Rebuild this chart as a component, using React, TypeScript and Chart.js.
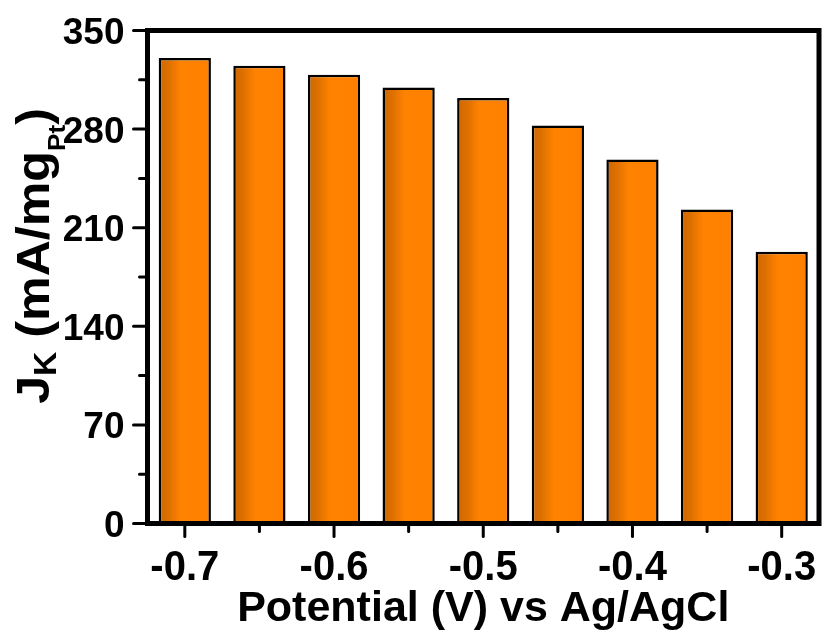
import React, { useEffect, useRef } from "react";
import { Chart, registerables } from "chart.js";

Chart.register(...registerables);

// Electrode potential (V vs Ag/AgCl) and kinetic current density (mA/mg Pt)
const potentials = ["-0.7", "-0.65", "-0.6", "-0.55", "-0.5", "-0.45", "-0.4", "-0.35", "-0.3"];
const kineticCurrent = [330.5, 325, 318.5, 309.5, 302, 282.5, 258.5, 223, 193];

const yMajorTicks = [0, 70, 140, 210, 280, 350];
const yMinorTicks = [35, 105, 175, 245, 315];
const xTickLabels = ["-0.7", "", "-0.6", "", "-0.5", "", "-0.4", "", "-0.3"];

const xTitle = "Potential (V) vs Ag/AgCl";
const yTitleParts = [
  { text: "J", level: 0 },
  { text: "K", level: 1 },
  { text: " (mA/mg", level: 0 },
  { text: "Pt", level: 2 },
  { text: ")", level: 0 },
];

const FONT = '"Liberation Sans", Arial, sans-serif';
const BAR_PCT = 0.7;

function barGradient(c: any) {
  const chart = c.chart;
  const xs = chart.scales?.x;
  if (!xs || !chart.chartArea) return "#ff8000";
  const cx = xs.getPixelForValue(c.dataIndex);
  const w = ((xs.right - xs.left) / potentials.length) * BAR_PCT;
  const g = chart.ctx.createLinearGradient(cx - w / 2, 0, cx + w / 2, 0);
  g.addColorStop(0, "#d06800");
  g.addColorStop(0.18, "#db6f00");
  g.addColorStop(0.42, "#ff8200");
  g.addColorStop(1, "#ff8000");
  return g;
}

const frameAndAxes = {
  id: "frameAndAxes",
  afterDraw(chart: any) {
    const { ctx, chartArea: a, scales } = chart;
    const xs = scales.x;
    const ys = scales.y;
    ctx.save();
    ctx.strokeStyle = "#000";
    ctx.fillStyle = "#000";

    // plot frame
    ctx.lineWidth = 5;
    ctx.strokeRect(a.left, a.top, a.right - a.left, a.bottom - a.top);

    const seg = (x1: number, y1: number, x2: number, y2: number) => {
      ctx.beginPath();
      ctx.moveTo(x1, y1);
      ctx.lineTo(x2, y2);
      ctx.stroke();
    };

    const tallText = (t: string, x: number, y: number, k: number) => {
      ctx.save();
      ctx.translate(x, y);
      ctx.scale(1, k);
      ctx.fillText(t, 0, 0);
      ctx.restore();
    };

    // y ticks (outward)
    ctx.lineWidth = 3;
    ctx.lineCap = "round";
    yMajorTicks.forEach((v) => {
      const y = ys.getPixelForValue(v);
      seg(a.left, y, a.left - 14, y);
    });
    yMinorTicks.forEach((v) => {
      const y = ys.getPixelForValue(v);
      seg(a.left, y, a.left - 8, y);
    });

    // x ticks (outward)
    potentials.forEach((_, i) => {
      const x = xs.getPixelForValue(i);
      const major = xTickLabels[i] !== "";
      seg(x, a.bottom, x, a.bottom + (major ? 13 : 8));
    });
    ctx.lineCap = "butt";

    // y tick labels
    ctx.font = `bold 37px ${FONT}`;
    ctx.textAlign = "right";
    ctx.textBaseline = "alphabetic";
    yMajorTicks.forEach((v) => {
      const y = ys.getPixelForValue(v);
      tallText(String(v), a.left - 23, y + 13.5, 1);
    });

    // x tick labels
    ctx.font = `bold 40px ${FONT}`;
    ctx.textAlign = "center";
    xTickLabels.forEach((t, i) => {
      if (!t) return;
      tallText(t, xs.getPixelForValue(i), 580, 1.05);
    });

    // x title
    ctx.font = `bold 43px ${FONT}`;
    tallText(xTitle, (a.left + a.right) / 2, 621, 1);

    // y title, rotated, with subscripts
    const sizes = [46, 31, 24];
    const drops = [0, 7, 16];
    ctx.save();
    ctx.translate(49, 256);
    ctx.rotate(-Math.PI / 2);
    ctx.scale(1.09, 1);
    let total = 0;
    yTitleParts.forEach((p) => {
      ctx.font = `bold ${sizes[p.level]}px ${FONT}`;
      total += ctx.measureText(p.text).width;
    });
    let x = -total / 2;
    ctx.textAlign = "left";
    yTitleParts.forEach((p) => {
      ctx.font = `bold ${sizes[p.level]}px ${FONT}`;
      ctx.fillText(p.text, x, drops[p.level]);
      x += ctx.measureText(p.text).width;
    });
    ctx.restore();

    ctx.restore();
  },
};

export default function App() {
  const canvasRef = useRef<HTMLCanvasElement | null>(null);

  useEffect(() => {
    const canvas = canvasRef.current;
    if (!canvas) return;
    const chart = new Chart(canvas, {
      type: "bar",
      data: {
        labels: potentials,
        datasets: [
          {
            data: kineticCurrent,
            backgroundColor: barGradient,
            borderColor: "#000",
            borderWidth: 2.5,
            barPercentage: BAR_PCT,
            categoryPercentage: 1,
          },
        ],
      },
      options: {
        responsive: true,
        maintainAspectRatio: false,
        animation: false,
        layout: { padding: { left: 147.5, right: 4, top: 30.5, bottom: 106.5 } },
        plugins: {
          legend: { display: false },
          tooltip: { enabled: false },
        },
        scales: {
          x: { type: "category", offset: true, display: false },
          y: { type: "linear", min: 0, max: 350, display: false },
        },
      },
      plugins: [frameAndAxes],
    });
    return () => chart.destroy();
  }, []);

  return (
    <div style={{ position: "fixed", left: 0, top: 0, width: 823, height: 630, background: "#fff" }}>
      <canvas ref={canvasRef} />
    </div>
  );
}
